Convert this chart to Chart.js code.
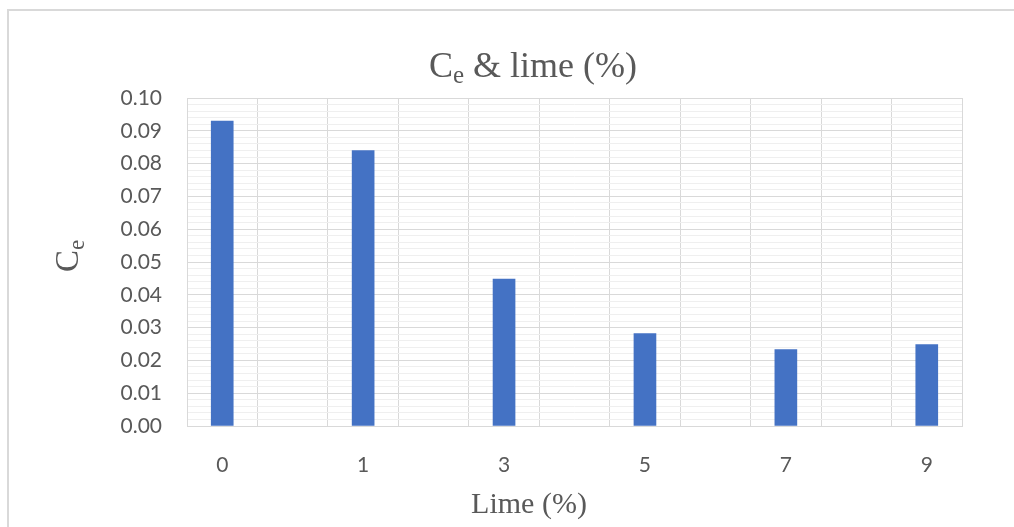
<!DOCTYPE html>
<html>
<head>
<meta charset="utf-8">
<script src="https://cdn.jsdelivr.net/npm/chart.js@4.4.1/dist/chart.umd.min.js"></script>
<style>
  html, body { margin: 0; padding: 0; background: #fff; }
  #wrap { width: 1014px; height: 527px; }
</style>
</head>
<body>
<div id="wrap"><canvas id="ceChart" width="1014" height="527"></canvas></div>
<script>
// lime content (%) and measured Ce
const limeLevels = ['0', '1', '3', '5', '7', '9'];
const ceValues = [0.093, 0.084, 0.0448, 0.0282, 0.0233, 0.0248];
const yTicks = [0, 0.01, 0.02, 0.03, 0.04, 0.05, 0.06, 0.07, 0.08, 0.09, 0.10];

const textColor = '#595959';
const gridColor = '#d9d9d9';

// every level gets an empty slot after it, like the excel sheet
const slotLabels = [];
const slotValues = [];
limeLevels.forEach((lvl, i) => {
  slotLabels.push(lvl);
  slotValues.push(ceValues[i]);
  if (i < limeLevels.length - 1) {
    slotLabels.push('');
    slotValues.push(null);
  }
});

// draws text with a subscript piece; parts = [[text, isSub], ...]
function partsWidth(ctx, parts, main, sub) {
  let w = 0;
  parts.forEach(([t, isSub]) => {
    ctx.font = isSub ? sub : main;
    w += ctx.measureText(t).width;
  });
  return w;
}
function drawParts(ctx, parts, x, y, main, sub, drop) {
  parts.forEach(([t, isSub]) => {
    ctx.font = isSub ? sub : main;
    ctx.fillText(t, x, isSub ? y + drop : y);
    x += ctx.measureText(t).width;
  });
}

const decorPlugin = {
  id: 'decor',
  beforeDraw(chart) {
    const ctx = chart.ctx;
    ctx.save();
    ctx.fillStyle = '#fff';
    ctx.fillRect(0, 0, chart.width, chart.height);
    ctx.strokeStyle = gridColor;
    ctx.lineWidth = 2;
    ctx.beginPath();
    ctx.moveTo(8, chart.height);
    ctx.lineTo(8, 10);
    ctx.lineTo(chart.width, 10);
    ctx.stroke();
    ctx.restore();
  },
  afterDraw(chart) {
    const ctx = chart.ctx;
    ctx.save();
    ctx.fillStyle = textColor;
    ctx.textBaseline = 'alphabetic';
    ctx.textAlign = 'left';

    // chart title
    const tMain = '36px "Liberation Serif", "Times New Roman", serif';
    const tSub = '25px "Liberation Serif", "Times New Roman", serif';
    const titleParts = [['C', false], ['e', true], [' & lime (%)', false]];
    const tw = partsWidth(ctx, titleParts, tMain, tSub);
    drawParts(ctx, titleParts, 533 - tw / 2, 77, tMain, tSub, 6);

    // x axis title
    ctx.font = '30px "Liberation Serif", "Times New Roman", serif';
    ctx.textAlign = 'center';
    ctx.fillText('Lime (%)', 529, 513);

    // y axis title, rotated
    ctx.textAlign = 'left';
    const yMain = '33px "Liberation Serif", "Times New Roman", serif';
    const ySub = '23px "Liberation Serif", "Times New Roman", serif';
    const yParts = [['C', false], ['e', true]];
    const yw = partsWidth(ctx, yParts, yMain, ySub);
    ctx.translate(78, 256 + yw / 2);
    ctx.rotate(-Math.PI / 2);
    drawParts(ctx, yParts, 0, 0, yMain, ySub, 6);
    ctx.restore();
  }
};

const ctx = document.getElementById('ceChart').getContext('2d');

const ceChart = new Chart(ctx, {
  type: 'bar',
  data: {
    labels: slotLabels,
    datasets: [{
      label: 'Ce',
      data: slotValues,
      backgroundColor: '#4472C4',
      borderWidth: 0,
      barThickness: 22
    }]
  },
  options: {
    responsive: false,
    animation: false,
    layout: { padding: { left: 0, right: 52, top: 98, bottom: 0 } },
    plugins: {
      legend: { display: false },
      title: { display: false },
      tooltip: { enabled: false }
    },
    scales: {
      x: {
        offset: true,
        grid: { offset: true, color: gridColor, lineWidth: 1, drawTicks: false },
        border: { color: gridColor, width: 1 },
        ticks: {
          autoSkip: false,
          maxRotation: 0,
          padding: 27,
          color: textColor,
          font: { family: 'Lato, "Open Sans", sans-serif', size: 21 }
        },
        afterFit(axis) { axis.height = 101; }
      },
      yMinor: {
        position: 'left',
        min: 0,
        max: 0.1,
        weight: 0,
        ticks: { display: false, stepSize: 0.002 },
        grid: {
          drawTicks: false,
          color: (c) => (c.index % 5 === 0 ? 'rgba(0,0,0,0)' : '#efefef'),
          lineWidth: 1
        },
        border: { display: false },
        afterFit(axis) { axis.width = 0; }
      },
      y: {
        position: 'left',
        min: 0,
        max: 0.1,
        weight: 1,
        afterBuildTicks(axis) {
          axis.ticks = yTicks.map(v => ({ value: v }));
        },
        grid: { color: gridColor, lineWidth: 1, drawTicks: false },
        border: { color: gridColor, width: 1 },
        ticks: {
          padding: 25,
          color: textColor,
          font: { family: 'Lato, "Open Sans", sans-serif', size: 21 },
          callback: (v) => Number(v).toFixed(2)
        },
        afterFit(axis) { axis.width = 187; }
      }
    }
  },
  plugins: [decorPlugin]
});
</script>
</body>
</html>
